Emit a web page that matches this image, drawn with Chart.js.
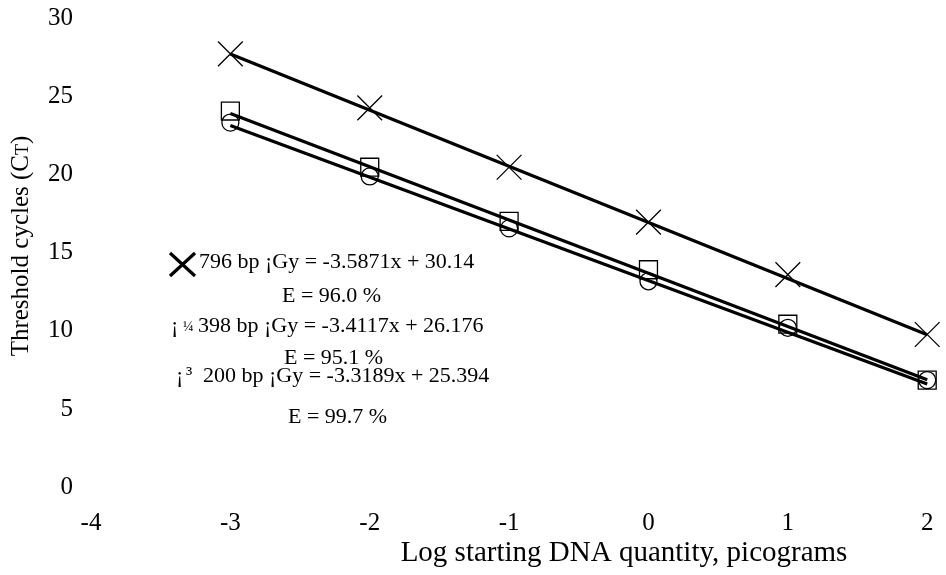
<!DOCTYPE html>
<html>
<head>
<meta charset="utf-8">
<script src="https://cdn.jsdelivr.net/npm/chart.js@4.4.1/dist/chart.umd.min.js"></script>
<style>
  html, body { margin: 0; padding: 0; background: #fff; }
  #wrap { width: 946px; height: 575px; position: relative; }
</style>
</head>
<body>
<div id="wrap"><canvas id="c" width="946" height="575"></canvas></div>
<script>
// ---- data ----
const logQuantity = [-3, -2, -1, 0, 1, 2];
const ct796bp = [27.75, 24.29, 20.49, 16.97, 13.61, 9.77];
const ct398bp = [24.09, 20.49, 17.02, 13.92, 10.43, 6.85];
const ct200bp = [23.35, 19.90, 16.57, 13.18, 10.20, 6.85];
// trend line end points (x = -3 and x = 2)
const trendX = [-3, 2];
const trend796bp = [27.75, 9.75];
const trend398bp = [23.93, 6.87];
const trend200bp = [23.16, 6.60];
const xTickValues = [-4, -3, -2, -1, 0, 1, 2];
const yTickValues = [0, 5, 10, 15, 20, 25, 30];
const legendLines = [
  { prefix: '', mark: '', text: '796 bp ¡Gy = -3.5871x + 30.14', eff: 'E = 96.0 %' },
  { prefix: '¡', mark: '¼', text: '398 bp ¡Gy = -3.4117x + 26.176', eff: 'E = 95.1 %' },
  { prefix: '¡', mark: '³', text: '200 bp ¡Gy = -3.3189x + 25.394', eff: 'E = 99.7 %' }
];
const xTitle = 'Log starting DNA quantity, picograms';
const yTitleMain = 'Threshold cycles (C';
const yTitleSub = 'T';
const yTitleEnd = ')';

const pts = (xs, ys) => xs.map((x, i) => ({ x: x, y: ys[i] }));
const SERIF = '"Liberation Serif", "Times New Roman", serif';

const textPlugin = {
  id: 'textPlugin',
  afterDraw(chart) {
    const ctx = chart.ctx;
    ctx.save();
    ctx.fillStyle = '#000';
    ctx.strokeStyle = '#000';
    ctx.textBaseline = 'alphabetic';
    ctx.textAlign = 'left';

    const f = '22px ' + SERIF;
    // big X marker
    ctx.lineWidth = 3.2;
    ctx.beginPath();
    ctx.moveTo(170, 253); ctx.lineTo(195, 276);
    ctx.moveTo(195, 253); ctx.lineTo(170, 276);
    ctx.stroke();

    const rows = [
      { base: 268, px: 0, mx: 0, ms: 0, tx: 199, ex: 282, eb: 302 },
      { base: 332, px: 171, mx: 183, ms: 14, tx: 198, ex: 284, eb: 364 },
      { base: 382, px: 176, mx: 186, ms: 21, tx: 203, ex: 288, eb: 423 }
    ];
    legendLines.forEach((l, i) => {
      const r = rows[i];
      ctx.font = f;
      if (l.prefix) ctx.fillText(l.prefix, r.px, r.base);
      if (l.mark) {
        ctx.font = r.ms + 'px ' + SERIF;
        ctx.fillText(l.mark, r.mx, r.base - 1);
        ctx.font = f;
      }
      ctx.fillText(l.text, r.tx, r.base);
      ctx.fillText(l.eff, r.ex, r.eb);
    });

    // x axis title
    ctx.font = '29px ' + SERIF;
    ctx.textAlign = 'center';
    ctx.textBaseline = 'middle';
    ctx.fillText(xTitle, 624, 553);

    // y axis title (rotated)
    ctx.translate(21, 246);
    ctx.rotate(-Math.PI / 2);
    ctx.textAlign = 'left';
    const bigF = '25px ' + SERIF, subF = '18px ' + SERIF;
    ctx.font = bigF;
    const w1 = ctx.measureText(yTitleMain).width;
    const w3 = ctx.measureText(yTitleEnd).width;
    ctx.font = subF;
    const w2 = ctx.measureText(yTitleSub).width;
    let x0 = -(w1 + w2 + w3) / 2;
    ctx.font = bigF;
    ctx.fillText(yTitleMain, x0, 0);
    ctx.font = subF;
    ctx.fillText(yTitleSub, x0 + w1, 2);
    ctx.font = bigF;
    ctx.fillText(yTitleEnd, x0 + w1 + w2, 0);
    ctx.restore();
  }
};

const markerCommon = {
  showLine: false,
  borderColor: '#000',
  backgroundColor: 'rgba(0,0,0,0)',
  pointBorderWidth: 1.3,
  clip: false
};
const lineCommon = {
  showLine: true,
  borderColor: '#000',
  borderWidth: 3.2,
  pointRadius: 0,
  pointHoverRadius: 0,
  tension: 0,
  clip: false
};

new Chart(document.getElementById('c'), {
  type: 'scatter',
  data: {
    datasets: [
      Object.assign({ label: '796 bp', data: pts(logQuantity, ct796bp), pointStyle: 'crossRot', pointRadius: 17.5 }, markerCommon),
      Object.assign({ label: '398 bp', data: pts(logQuantity, ct398bp), pointStyle: 'rect', pointRadius: 12.7 }, markerCommon),
      Object.assign({ label: '200 bp', data: pts(logQuantity, ct200bp), pointStyle: 'circle', pointRadius: 8.5 }, markerCommon),
      Object.assign({ label: 'trend 796', data: pts(trendX, trend796bp) }, lineCommon),
      Object.assign({ label: 'trend 398', data: pts(trendX, trend398bp) }, lineCommon),
      Object.assign({ label: 'trend 200', data: pts(trendX, trend200bp) }, lineCommon)
    ]
  },
  options: {
    responsive: false,
    animation: false,
    events: [],
    layout: { padding: { top: 18, right: 15, left: 0, bottom: 0 } },
    plugins: { legend: { display: false }, tooltip: { enabled: false }, title: { display: false } },
    scales: {
      x: {
        type: 'linear',
        min: -4, max: 2,
        afterBuildTicks: (s) => { s.ticks = xTickValues.map(v => ({ value: v })); },
        afterFit: (s) => { s.height = 88; s.paddingLeft = 0; s.paddingRight = 0; },
        grid: { display: false, drawTicks: false },
        border: { display: false },
        ticks: { color: '#000', padding: 21, maxRotation: 0, autoSkip: false, font: { family: SERIF, size: 25 } }
      },
      y: {
        type: 'linear',
        min: 0, max: 30,
        afterBuildTicks: (s) => { s.ticks = yTickValues.map(v => ({ value: v })); },
        afterFit: (s) => { s.width = 91; s.paddingTop = 0; s.paddingBottom = 0; },
        grid: { display: false, drawTicks: false },
        border: { display: false },
        ticks: { color: '#000', padding: 18, autoSkip: false, font: { family: SERIF, size: 25 } }
      }
    }
  },
  plugins: [textPlugin]
});
</script>
</body>
</html>
